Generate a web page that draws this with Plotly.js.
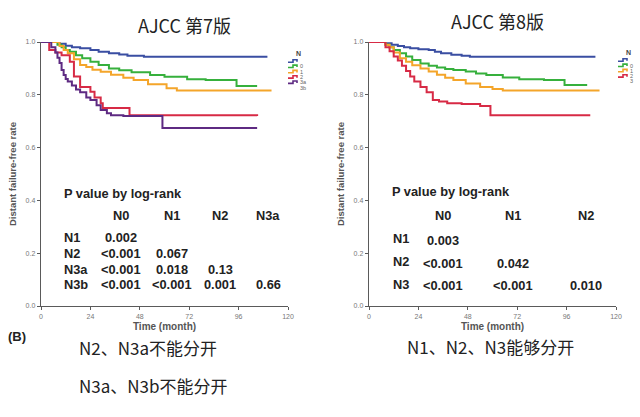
<!DOCTYPE html>
<html>
<head>
<meta charset="utf-8">
<script src="https://cdn.plot.ly/plotly-3.0.1.min.js"></script>
<style>html,body{margin:0;padding:0;background:#fff;}#chart{width:640px;height:417px;}</style>
</head>
<body>
<div id="chart"></div>
<script>
// ---- Data: AJCC 7th edition (left) ----
const t7_N0 = [0, 9, 12, 15, 19, 24, 28, 33, 38, 42, 50, 110];
const s7_N0 = [1.0, 0.993, 0.986, 0.98, 0.976, 0.97, 0.963, 0.957, 0.953, 0.948, 0.944, 0.944];
const t7_N1 = [0, 8, 10, 12, 14, 17, 20, 24, 28, 33, 38, 44, 53, 60, 71, 80, 95, 105];
const s7_N1 = [1.0, 0.99, 0.98, 0.97, 0.963, 0.95, 0.938, 0.925, 0.913, 0.90, 0.893, 0.885, 0.875, 0.868, 0.859, 0.856, 0.833, 0.833];
const t7_N2 = [0, 9, 11, 13, 16, 19, 22, 25, 29, 34, 40, 45, 52, 61, 66, 112];
const s7_N2 = [1.0, 0.985, 0.97, 0.957, 0.935, 0.913, 0.905, 0.895, 0.887, 0.876, 0.865, 0.856, 0.84, 0.825, 0.816, 0.816];
const t7_N3a = [0, 4, 7, 10, 14, 16, 19, 21, 24, 26, 29, 30, 43, 105];
const s7_N3a = [1.0, 0.97, 0.96, 0.95, 0.925, 0.869, 0.83, 0.83, 0.812, 0.79, 0.768, 0.75, 0.723, 0.72];
const t7_N3b = [0, 5, 7, 8, 9, 10, 11, 12, 13, 15, 17, 19, 22, 24, 27, 29, 32, 34, 40, 59, 105];
const s7_N3b = [1.0, 0.98, 0.96, 0.94, 0.92, 0.894, 0.875, 0.86, 0.85, 0.835, 0.82, 0.81, 0.79, 0.78, 0.76, 0.742, 0.73, 0.723, 0.72, 0.674, 0.674];

// ---- Data: AJCC 8th edition (right) ----
const t8_N0 = [0, 8, 11, 14, 17, 20, 24, 29, 32, 35, 40, 45, 49, 110];
const s8_N0 = [1.0, 0.995, 0.99, 0.985, 0.98, 0.976, 0.973, 0.97, 0.963, 0.957, 0.952, 0.948, 0.944, 0.944];
const t8_N1 = [0, 8, 10, 12, 15, 18, 21, 25, 29, 33, 37, 41, 47, 52, 57, 65, 73, 85, 95, 106];
const s8_N1 = [1.0, 0.99, 0.98, 0.97, 0.957, 0.945, 0.932, 0.919, 0.91, 0.903, 0.898, 0.894, 0.888, 0.881, 0.875, 0.866, 0.859, 0.856, 0.837, 0.837];
const t8_N2 = [0, 8, 10, 12, 15, 18, 21, 25, 29, 33, 37, 41, 47, 54, 60, 65, 112];
const s8_N2 = [1.0, 0.99, 0.98, 0.96, 0.938, 0.925, 0.912, 0.90, 0.888, 0.876, 0.865, 0.856, 0.843, 0.83, 0.822, 0.816, 0.816];
const t8_N3 = [0, 8, 10, 12, 14, 16, 18, 20, 22, 25, 28, 31, 34, 38, 45, 54, 59, 107.5];
const s8_N3 = [1.0, 0.98, 0.965, 0.945, 0.93, 0.91, 0.89, 0.869, 0.85, 0.83, 0.81, 0.78, 0.775, 0.768, 0.765, 0.758, 0.723, 0.723];

// ---- Labels ----
const legend7 = ["0", "1", "2", "3a", "3b"];
const legend8 = ["0", "1", "2", "3"];
const xTicks = [0, 24, 48, 72, 96, 120];
const yTicks = [0, 0.2, 0.4, 0.6, 0.8, 1.0];
const yTickText = ["0.0", "0.2", "0.4", "0.6", "0.8", "1.0"];

// P-value tables
const p7Cols = ["N0", "N1", "N2", "N3a"];
const p7Rows = ["N1", "N2", "N3a", "N3b"];
const p7Vals = [
  ["0.002", "", "", ""],
  ["<0.001", "0.067", "", ""],
  ["<0.001", "0.018", "0.13", ""],
  ["<0.001", "<0.001", "0.001", "0.66"]
];
const p8Cols = ["N0", "N1", "N2"];
const p8Rows = ["N1", "N2", "N3"];
const p8Vals = [
  ["0.003", "", ""],
  ["<0.001", "0.042", ""],
  ["<0.001", "<0.001", "0.010"]
];

// ---- Styles ----
const colors7 = ["#3a4ea2", "#36b03c", "#f4a52a", "#d72a45", "#5e2a82"];
const colors8 = ["#3a4ea2", "#36b03c", "#f4a52a", "#d72a45"];
const W = 640, H = 417;
const px = v => v / W;
const py = v => 1 - v / H;

const series7 = [[t7_N0, s7_N0], [t7_N1, s7_N1], [t7_N2, s7_N2], [t7_N3a, s7_N3a], [t7_N3b, s7_N3b]];
const series8 = [[t8_N0, s8_N0], [t8_N1, s8_N1], [t8_N2, s8_N2], [t8_N3, s8_N3]];

const traces = [];
series7.forEach((s, i) => traces.push({
  x: s[0], y: s[1], type: "scatter", mode: "lines", line: {shape: "hv", color: colors7[i], width: 2},
  name: legend7[i], xaxis: "x", yaxis: "y", showlegend: false, hoverinfo: "skip"
}));
series8.forEach((s, i) => traces.push({
  x: s[0], y: s[1], type: "scatter", mode: "lines", line: {shape: "hv", color: colors8[i], width: 2},
  name: legend8[i], xaxis: "x2", yaxis: "y2", showlegend: false, hoverinfo: "skip"
}));

const axisBase = {
  showline: true, linecolor: "#5a5a5a", linewidth: 1.3, ticks: "outside", ticklen: 3, tickwidth: 1,
  tickcolor: "#5a5a5a", showgrid: false, zeroline: false,
  tickfont: {family: "Liberation Sans, Arial, sans-serif", size: 7, color: "#777"}
};
const xAxis = (dom) => Object.assign({}, axisBase, {
  domain: dom, range: [0, 120], tickvals: xTicks, ticktext: xTicks.map(String),
  title: {text: "Time (month)", standoff: 4, font: {family: "Liberation Sans, Arial, sans-serif", size: 10, color: "#555", weight: "bold"}}
});
const yAxis = (anchor) => Object.assign({}, axisBase, {
  domain: [1 - 306 / H, 1 - 42 / H], range: [0, 1], tickvals: yTicks, ticktext: yTickText, anchor: anchor,
  title: {text: "Distant failure-free rate", standoff: 7, font: {family: "Liberation Sans, Arial, sans-serif", size: 9.5, color: "#555", weight: "bold"}}
});

const annotations = [];
const shapes = [];
const bold = {family: "Liberation Sans, Arial, sans-serif", size: 12.8, color: "#222", weight: "bold"};

// Titles
const titleFont = {family: "Noto Sans CJK SC, Liberation Sans, sans-serif", size: 18, color: "#222"};
annotations.push({text: "AJCC 第7版", x: px(184), y: py(25), xref: "paper", yref: "paper", xanchor: "center", yanchor: "middle", showarrow: false, font: titleFont});
annotations.push({text: "AJCC 第8版", x: px(497), y: py(21), xref: "paper", yref: "paper", xanchor: "center", yanchor: "middle", showarrow: false, font: titleFont});

// Left P table (data coords of axis x/y)
annotations.push({text: "P value by log-rank", x: 10.2, y: 0.428, xref: "x", yref: "y", xanchor: "left", showarrow: false, font: bold});
const colX7 = [38.9, 63.8, 87, 110.3];
const rowY7 = [0.258, 0.197, 0.140, 0.080];
p7Cols.forEach((c, j) => annotations.push({text: c, x: colX7[j], y: 0.341, xref: "x", yref: "y", xanchor: "center", showarrow: false, font: bold}));
p7Rows.forEach((r, i) => {
  annotations.push({text: r, x: 10.2, y: rowY7[i], xref: "x", yref: "y", xanchor: "left", showarrow: false, font: bold});
  p7Vals[i].forEach((v, j) => { if (v) annotations.push({text: v, x: colX7[j], y: rowY7[i], xref: "x", yref: "y", xanchor: "center", showarrow: false, font: bold}); });
});

// Right P table
annotations.push({text: "P value by log-rank", x: 10.2, y: 0.432, xref: "x2", yref: "y2", xanchor: "left", showarrow: false, font: bold});
const colX8 = [36, 69.8, 105.4];
const rowY8 = [0.254, 0.167, 0.080];
const valY8 = [0.248, 0.162, 0.078];
p8Cols.forEach((c, j) => annotations.push({text: c, x: colX8[j], y: 0.341, xref: "x2", yref: "y2", xanchor: "center", showarrow: false, font: bold}));
p8Rows.forEach((r, i) => {
  annotations.push({text: r, x: 10.7, y: rowY8[i], xref: "x2", yref: "y2", xanchor: "left", showarrow: false, font: bold});
  p8Vals[i].forEach((v, j) => { if (v) annotations.push({text: v, x: colX8[j], y: valY8[i], xref: "x2", yref: "y2", xanchor: "center", showarrow: false, font: bold}); });
});

// Custom mini legends (step icons)
function miniLegend(x0, yTitle, labels, cols) {
  annotations.push({text: "N", x: px(x0 + 10), y: py(yTitle), xref: "paper", yref: "paper", xanchor: "center", showarrow: false,
    font: {family: "Liberation Sans, Arial, sans-serif", size: 7, color: "#444", weight: "bold"}});
  labels.forEach((lab, i) => {
    const yy = yTitle + 13 + i * 5.3;
    const a = px(x0), b = px(x0 + 5), c = px(x0 + 9);
    const y1 = py(yy + 1.2), y2 = py(yy - 1.2);
    shapes.push({type: "path", xref: "paper", yref: "paper",
      path: `M ${a} ${y1} L ${b} ${y1} L ${b} ${y2} L ${c} ${y2} L ${c} ${py(yy+0.8)}`,
      line: {color: cols[i], width: 1.6}});
    annotations.push({text: lab, x: px(x0 + 9.5), y: py(yy + 0.5), xref: "paper", yref: "paper", xanchor: "left", showarrow: false,
      font: {family: "Liberation Sans, Arial, sans-serif", size: 5.5, color: "#666"}});
  });
}
miniLegend(288, 48, legend7, colors7);
miniLegend(618, 47, legend8, colors8);

// Bottom notes
annotations.push({text: "<b>(B)</b>", x: px(6), y: py(346), xref: "paper", yref: "paper", xanchor: "left", showarrow: false,
  font: {family: "Liberation Sans, Arial, sans-serif", size: 13, color: "#222"}});
const cjk = {family: "Noto Sans CJK SC, Liberation Sans, sans-serif", size: 17, color: "#222"};
annotations.push({text: "N2、N3a不能分开", x: px(77), y: py(362), xref: "paper", yref: "paper", xanchor: "left", showarrow: false, font: cjk});
annotations.push({text: "N3a、N3b不能分开", x: px(77), y: py(400), xref: "paper", yref: "paper", xanchor: "left", showarrow: false, font: cjk});
annotations.push({text: "N1、N2、N3能够分开", x: px(405), y: py(361), xref: "paper", yref: "paper", xanchor: "left", showarrow: false, font: cjk});

const layout = {
  width: W, height: H, autosize: false,
  margin: {l: 0, r: 0, t: 0, b: 0},
  paper_bgcolor: "#fff", plot_bgcolor: "#fff",
  showlegend: false,
  xaxis: Object.assign(xAxis([41 / W, 288 / W]), {anchor: "y"}),
  yaxis: yAxis("x"),
  xaxis2: Object.assign(xAxis([369 / W, 616 / W]), {anchor: "y2"}),
  yaxis2: yAxis("x2"),
  annotations: annotations,
  shapes: shapes
};

Plotly.newPlot("chart", traces, layout, {staticPlot: true, displayModeBar: false});
</script>
</body>
</html>
